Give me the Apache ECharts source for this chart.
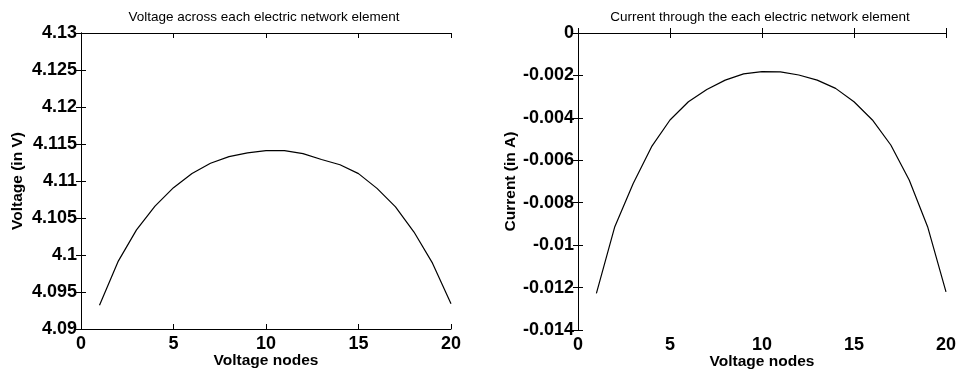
<!DOCTYPE html>
<html>
<head>
<meta charset="utf-8">
<script src="https://cdn.jsdelivr.net/npm/echarts@6/dist/echarts.min.js"></script>
<style>
  html, body { margin: 0; padding: 0; background: #fff; }
  #chart { width: 957px; height: 373px; }
</style>
</head>
<body>
<div id="chart"></div>
<script>
// voltage nodes 1..20
var nodes = [1, 2, 3, 4, 5, 6, 7, 8, 9, 10, 11, 12, 13, 14, 15, 16, 17, 18, 19, 20];
var voltage = [
  4.0932, 4.0991, 4.1034, 4.1066, 4.1091,
  4.1110, 4.1124, 4.1133, 4.1138, 4.1141,
  4.1141, 4.1137, 4.1129, 4.1122, 4.1110,
  4.1090, 4.1065, 4.1031, 4.0989, 4.0934
];
var current = [
  -0.01227, -0.00913, -0.00709, -0.00536, -0.0041,
  -0.00324, -0.00266, -0.00222, -0.00193, -0.00182,
  -0.00183, -0.00198, -0.00222, -0.00261, -0.00324,
  -0.0041, -0.00528, -0.00693, -0.00913, -0.0122
];
var xTicks = [0, 5, 10, 15, 20];
var voltTicks = [4.09, 4.095, 4.1, 4.105, 4.11, 4.115, 4.12, 4.125, 4.13];
var currTicks = [-0.014, -0.012, -0.01, -0.008, -0.006, -0.004, -0.002, 0];

var font = 'Liberation Sans, Arial, sans-serif';

function pairs(ys) {
  return nodes.map(function (n, i) { return [n, ys[i]]; });
}
function fmt(v) {
  return String(parseFloat(v.toFixed(4)));
}
function ticks() {
  return { show: true, inside: true, length: 5, lineStyle: { color: '#000', width: 1 } };
}

function xAx(grid, pos, labels) {
  return {
    type: 'value', gridIndex: grid, position: pos,
    min: xTicks[0], max: xTicks[xTicks.length - 1], interval: 5,
    name: labels ? 'Voltage nodes' : '', nameLocation: 'middle', nameGap: 24, nameMoveOverlap: false,
    nameTextStyle: { color: '#000', fontFamily: font, fontSize: 15.5, fontWeight: 'bold' },
    axisLine: { show: true, lineStyle: { color: '#000', width: 1 } },
    axisTick: ticks(),
    splitLine: { show: false },
    axisLabel: { show: labels, color: '#000', fontFamily: font, fontSize: 18, fontWeight: 'bold', margin: 6 }
  };
}
function yAx(grid, pos, vals, step, name, labels) {
  return {
    type: 'value', gridIndex: grid, position: pos,
    min: vals[0], max: vals[vals.length - 1], interval: step,
    name: labels ? name : '', nameLocation: 'middle', nameGap: grid === 0 ? 55 : 58,
    nameTextStyle: { color: '#000', fontFamily: font, fontSize: 15.5, fontWeight: 'bold' },
    axisLine: { show: true, lineStyle: { color: '#000', width: 1 } },
    axisTick: ticks(),
    splitLine: { show: false },
    axisLabel: { show: labels, color: '#000', fontFamily: font, fontSize: 18, fontWeight: 'bold', margin: 4, formatter: fmt }
  };
}

var chart = echarts.init(document.getElementById('chart'));
chart.setOption({
  animation: false,
  backgroundColor: '#fff',
  title: [
    { text: 'Voltage across each electric network element', left: 259, top: 5, textAlign: 'center',
      textStyle: { fontFamily: font, fontSize: 13.5, fontWeight: 'normal', color: '#000' } },
    { text: 'Current through the each electric network element', left: 755, top: 5, textAlign: 'center',
      textStyle: { fontFamily: font, fontSize: 13.5, fontWeight: 'normal', color: '#000' } }
  ],
  grid: [
    { left: 81, right: 506, top: 33, bottom: 44, outerBoundsMode: 'none' },
    { left: 578, right: 11, top: 33, bottom: 43, outerBoundsMode: 'none' }
  ],
  xAxis: [
    xAx(0, 'bottom', true), xAx(0, 'top', false),
    xAx(1, 'bottom', true), xAx(1, 'top', false)
  ],
  yAxis: [
    yAx(0, 'left', voltTicks, 0.005, 'Voltage (in V)', true),
    yAx(0, 'right', voltTicks, 0.005, '', false),
    yAx(1, 'left', currTicks, 0.002, 'Current (in A)', true),
    yAx(1, 'right', currTicks, 0.002, '', false)
  ],
  series: [
    { type: 'line', xAxisIndex: 0, yAxisIndex: 0, data: pairs(voltage), showSymbol: false,
      lineStyle: { color: '#000', width: 1.2 } },
    { type: 'line', xAxisIndex: 2, yAxisIndex: 2, data: pairs(current), showSymbol: false,
      lineStyle: { color: '#000', width: 1.2 } }
  ]
});
</script>
</body>
</html>
